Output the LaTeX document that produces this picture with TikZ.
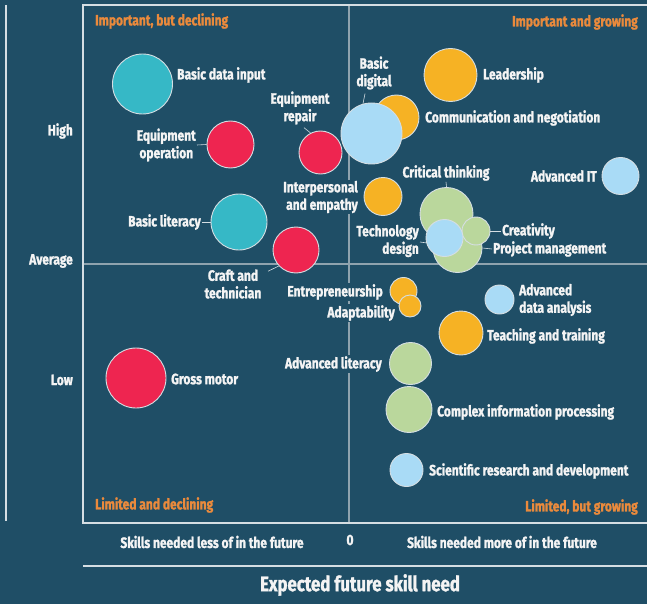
\documentclass[tikz,border=0pt]{standalone}
\usepackage{fontspec}
\setmainfont{Fira Sans}[FakeStretch=0.8, FakeBold=1.3]
\definecolor{bg}{HTML}{1F4E66}
\definecolor{frame}{HTML}{D5DEE3}
\definecolor{divider}{HTML}{8FA3AE}
\definecolor{txt}{HTML}{F4F4F4}
\definecolor{quad}{HTML}{EA8A3C}
\definecolor{cteal}{HTML}{36B8C6}
\definecolor{cred}{HTML}{EE2550}
\definecolor{corange}{HTML}{F6B224}
\definecolor{cblue}{HTML}{A9DBF6}
\definecolor{cgreen}{HTML}{BAD79C}
\tikzset{
  bub/.style={circle, draw=frame, line width=0.9pt, inner sep=0pt, minimum size=#1},
  lbl/.style={text=txt, font=\fontsize{15}{17.5}\selectfont\bfseries, inner sep=1pt, fill=bg},
  quadlbl/.style={text=quad, font=\fontsize{15}{17}\selectfont\bfseries, inner sep=0pt},
  axlbl/.style={text=txt, font=\fontsize{15}{17}\selectfont\bfseries, inner sep=0pt},
  leader/.style={draw=frame, line width=0.6pt},
  frameline/.style={draw=frame, line width=1.8pt},
  divline/.style={draw=divider, line width=1.3pt}
}
\begin{document}
\begin{tikzpicture}[x=1pt,y=-1pt]
\fill[bg] (0,0) rectangle (647,604);
\useasboundingbox (0,0) rectangle (647,604);
% frame and axes
\coordinate (ftr) at (648,5);
\coordinate (ftl) at (83,5);
\coordinate (fbl) at (83,523);
\coordinate (fbr) at (648,523);
\draw[frameline] (ftr) -- (ftl) -- (fbl) -- (fbr);
\coordinate (vt) at (6,5);
\coordinate (vb) at (6,521);
\draw[frameline] (vt) -- (vb);
\coordinate (hl) at (83,566);
\coordinate (hr) at (648,566);
\draw[frameline] (hl) -- (hr);
% dividers
\coordinate (dvt) at (349,6);
\coordinate (dvb) at (349,522);
\coordinate (dhl) at (84,264);
\coordinate (dhr) at (647,264);
\draw[divline] (dvt) -- (dvb);
\draw[divline] (dhl) -- (dhr);
% quadrant labels
\node[quadlbl, anchor=west] (q1) at (95,21) {Important, but declining};
\node[quadlbl, anchor=east] (q2) at (638,22) {Important and growing};
\node[quadlbl, anchor=west] (q3) at (95,505) {Limited and declining};
\node[quadlbl, anchor=east] (q4) at (638,507) {Limited, but growing};
% axis labels
\node[axlbl, anchor=east] (yh) at (73,131) {High};
\node[axlbl, anchor=east] (ya) at (73,261) {Average};
\node[axlbl, anchor=east] (yl) at (73,380) {Low};
\node[axlbl] (xl) at (212,542) {Skills needed less of in the future};
\node[axlbl] (x0) at (350,540) {0};
\node[axlbl] (xm) at (502,542) {Skills needed more of in the future};
\node[text=txt, font=\fontsize{21}{24}\selectfont\bfseries, inner sep=0pt] (title) at (360,585) {Expected future skill need};
% bubble labels
\node[lbl, anchor=west] (lBDI) at (176,75) {Basic data input};
\node[lbl, anchor=east, align=center] (lEO) at (197,145) {Equipment\\operation};
\node[lbl, align=center] (lER) at (300,108) {Equipment\\repair};
\node[lbl, anchor=east] (lBL) at (202,222) {Basic literacy};
\node[lbl, align=center] (lCT) at (233,284) {Craft and\\technician};
\node[lbl, anchor=west] (lGM) at (170,379) {Gross motor};
\node[lbl, align=center] (lBD) at (374,73) {Basic\\digital};
\node[lbl, anchor=west] (lCN) at (424,118) {Communication and negotiation};
\node[lbl, anchor=west] (lLE) at (482,75) {Leadership};
\node[lbl, anchor=east] (lAIT) at (598,176) {Advanced IT};
\node[lbl, anchor=east, align=right] (lIE) at (359,197) {Interpersonal\\and empathy};
\node[lbl] (lCRT) at (446,173) {Critical thinking};
\node[lbl, anchor=east, align=right] (lTD) at (420,241) {Technology\\design};
\node[lbl, anchor=west] (lCR) at (501,231) {Creativity};
\node[lbl, anchor=west] (lPM) at (492,249) {Project management};
\node[lbl, anchor=east] (lEN) at (384,292) {Entrepreneurship};
\node[lbl, anchor=east] (lAD) at (396,313) {Adaptability};
\node[lbl, anchor=west, align=left] (lADA) at (518,300) {Advanced\\data analysis};
\node[lbl, anchor=west] (lTT) at (486,336) {Teaching and training};
\node[lbl, anchor=east] (lAL) at (383,364) {Advanced literacy};
\node[lbl, anchor=west] (lCIP) at (436,412) {Complex information processing};
\node[lbl, anchor=west] (lSRD) at (428,471) {Scientific research and development};
% bubbles
\node[bub=60pt, fill=cteal] (BDI) at (142.5,84) {};
\node[bub=47pt, fill=cred] (EO) at (230.5,144.5) {};
\node[bub=43pt, fill=cred] (ER) at (320.5,152.5) {};
\node[bub=56pt, fill=cteal] (BL) at (239,222) {};
\node[bub=46pt, fill=cred] (CT) at (296,250) {};
\node[bub=60pt, fill=cred] (GM) at (136,378) {};
\node[bub=45pt, fill=corange] (CN) at (396.5,117.5) {};
\node[bub=61pt, fill=cblue] (BD) at (371.5,133.5) {};
\node[bub=53pt, fill=corange] (LE) at (450.5,75) {};
\node[bub=37pt, fill=cblue] (AIT) at (620.5,176) {};
\node[bub=38pt, fill=corange] (IE) at (383,196.5) {};
\node[bub=49pt, fill=cgreen] (PM) at (457.5,248) {};
\node[bub=53pt, fill=cgreen] (CRT) at (446.5,214) {};
\node[bub=28pt, fill=cgreen] (CR) at (476,231) {};
\node[bub=37pt, fill=cblue] (TD) at (444.5,238) {};
\node[bub=27pt, fill=corange] (EN) at (403.5,291) {};
\node[bub=22pt, fill=corange] (AD) at (410,306) {};
\node[bub=29pt, fill=cblue] (ADA) at (499.5,299.5) {};
\node[bub=44pt, fill=corange] (TT) at (461,333) {};
\node[bub=42pt, fill=cgreen] (AL) at (410.5,363.5) {};
\node[bub=46pt, fill=cgreen] (CIP) at (409,409.5) {};
\node[bub=33pt, fill=cblue] (SRD) at (406.5,470) {};
% leaders
\draw[leader] (lEO.east) -- (EO.west);
\draw[leader] ([xshift=4pt,yshift=-2pt]lER.south) -- (ER.117);
\draw[leader] (lBL.east) -- (BL.west);
\draw[leader] ([xshift=35pt,yshift=-3pt]lCT.north) -- (CT.223);
\draw[leader] ([xshift=-9pt,yshift=-3pt]lBD.south) -- (BD.106);
\draw[leader] (lCRT.south) -- (CRT.north);
\draw[leader] ([yshift=-1pt]lTD.east) -- (TD.195);
\draw[leader] (CR.east) -- (lCR.west);
\draw[leader] (PM.east) -- (lPM.west);
\end{tikzpicture}
\end{document}
